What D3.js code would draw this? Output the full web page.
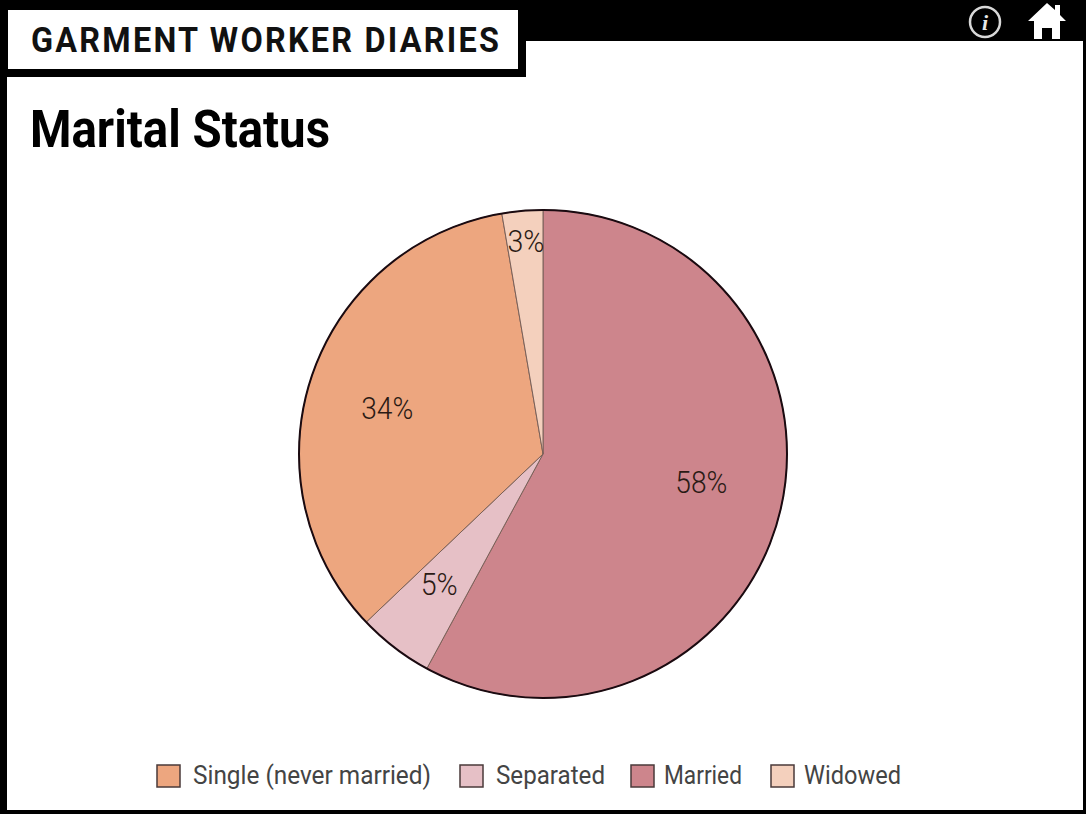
<!DOCTYPE html>
<html><head><meta charset="utf-8">
<script src="https://cdn.jsdelivr.net/npm/d3@7/dist/d3.min.js"></script>
<style>html,body{margin:0;padding:0;background:#fff;overflow:hidden}svg{display:block}</style>
</head><body><svg id="c" width="1086" height="814"></svg>
<script>
const categories = ["Married","Separated","Single (never married)","Widowed"];
const values = [57.9,5.0,34.4,2.7];
const colors = ["#cd858c","#e6c0c6","#eda67f","#f4d0bd"];
const legendOrder = ["Single (never married)","Separated","Married","Widowed"];
const headerText = "GARMENT WORKER DIARIES";
const titleText = "Marital Status";

const legendX = [157,460,631,771];
const legendWidths = {"Single (never married)":238,"Separated":109,"Married":78,"Widowed":97};
const svg = d3.select("#c");
const font = "'Roboto','Liberation Sans',sans-serif";
// frame
svg.append("rect").attr("width",1086).attr("height",814).attr("fill","#000");
svg.append("rect").attr("x",7).attr("y",41).attr("width",1076).attr("height",769).attr("fill","#fff");
svg.append("rect").attr("x",0).attr("y",0).attr("width",526).attr("height",77).attr("fill","#000");
svg.append("rect").attr("x",8).attr("y",10).attr("width",510).attr("height",59).attr("fill","#fff");
const sx = 0.9;
svg.append("text").attr("transform",`translate(31,52) scale(${sx},1)`).text(headerText)
  .attr("font-family",font).attr("font-weight",700).attr("font-size",36).attr("fill","#111")
  .attr("textLength",468/sx).attr("lengthAdjust","spacing");
svg.append("text").attr("x",30).attr("y",147).text(titleText)
  .attr("font-family",font).attr("font-weight",700).attr("font-size",51).attr("fill","#000")
  .attr("textLength",300).attr("lengthAdjust","spacingAndGlyphs");
// info icon
const info = svg.append("g").attr("transform","translate(985,22)");
info.append("circle").attr("r",15).attr("fill","none").attr("stroke","#d8d8d8").attr("stroke-width",2.5);
info.append("text").attr("y",8).attr("text-anchor","middle").text("i").attr("fill","#e8e8e8")
  .attr("font-family","'Liberation Serif',serif").attr("font-style","italic").attr("font-weight",700).attr("font-size",22);
// home icon
svg.append("path").attr("fill","#fff")
  .attr("d","M1047 3L1055 10L1055 5L1060 5L1060 15L1066 21L1060 21L1060 39L1052 39L1052 28L1042 28L1042 39L1034 39L1034 21L1028 21Z");

// pie
const color = d3.scaleOrdinal(categories,colors);
const cx=543, cy=454, R=244;
const pie = d3.pie().sort(null).value(d=>d.v);
const arcs = pie(categories.map((c,i)=>({c,v:values[i]})));
const arc = d3.arc().innerRadius(0).outerRadius(R);
const g = svg.append("g").attr("transform",`translate(${cx},${cy})`);
g.selectAll("path").data(arcs).join("path").attr("d",arc).attr("fill",d=>color(d.data.c))
  .attr("stroke","#7a6058").attr("stroke-width",1);
g.append("circle").attr("r",R).attr("fill","none").attr("stroke","#1a0a10").attr("stroke-width",2);
const labelR = [0.72,0.72,0.72,0.87];
const labelNudge = [[-12,-15],[3,-9],[11,9],[1,-1]];
const labelPos = (d,i)=>{const a=(d.startAngle+d.endAngle)/2;const r=R*labelR[i];
  return [Math.sin(a)*r+labelNudge[i][0],-Math.cos(a)*r+labelNudge[i][1]];};
g.selectAll("text.l").data(arcs).join("text").attr("class","l")
  .attr("x",(d,i)=>labelPos(d,i)[0]).attr("y",(d,i)=>labelPos(d,i)[1])
  .attr("dy","0.35em").attr("text-anchor","middle")
  .attr("font-family",font).attr("font-weight",300).attr("font-size",31).attr("fill","#2a1a14")
  .attr("textLength",d=>Math.round(d.data.v)>=10?52:37).attr("lengthAdjust","spacingAndGlyphs")
  .text(d=>Math.round(d.data.v)+"%");

// legend
const lg = svg.append("g").selectAll("g").data(legendOrder).join("g")
  .attr("transform",(d,i)=>`translate(${legendX[i]},765)`);
lg.append("rect").attr("width",23).attr("height",22).attr("fill",d=>color(d)).attr("stroke","#4a3a3a").attr("stroke-width",1.5);
lg.append("text").attr("x",(d,i)=>i<2?36:33).attr("y",19).text(d=>d)
  .attr("font-family",font).attr("font-size",26).attr("fill","#444")
  .attr("textLength",d=>legendWidths[d])
  .attr("lengthAdjust","spacingAndGlyphs");
</script></body></html>
